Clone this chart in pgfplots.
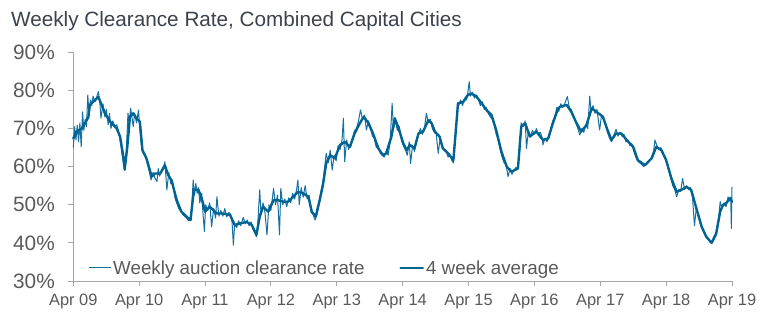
\documentclass[border=0pt]{standalone}
\usepackage{fontspec}
\setmainfont{Liberation Sans}
\usepackage{pgfplots}
\pgfplotsset{compat=1.18}
\definecolor{avgc}{RGB}{0,99,145}
\definecolor{wkc}{RGB}{22,112,162}
\definecolor{axc}{RGB}{166,166,166}
\definecolor{labc}{RGB}{89,89,89}
\definecolor{titc}{RGB}{60,66,76}
\pgfplotsset{my legend image/.style={legend image code/.code={\draw[#1] (0pt,0pt) -- (20pt,0pt); \path (0pt,0pt) -- (22pt,0pt);}}}
\begin{document}
\begin{tikzpicture}
\useasboundingbox (-73.3pt,-44pt) rectangle (693.7pt,281pt);
\node[anchor=base west, font=\fontsize{20.7}{24}\selectfont, text=titc, inner sep=0pt] at (-62.3pt,255pt) {Weekly Clearance Rate, Combined Capital Cities};
\begin{axis}[at={(0pt,0pt)}, anchor=south west, scale only axis,
  width=658.7pt, height=228.7pt,
  xmin=0, xmax=10, ymin=30, ymax=90,
  axis lines*=left,
  axis line style={axc, line width=0.9pt, -},
  xtick={0,1,2,3,4,5,6,7,8,9,10},
  xticklabels={Apr 09,Apr 10,Apr 11,Apr 12,Apr 13,Apr 14,Apr 15,Apr 16,Apr 17,Apr 18,Apr 19},
  ytick={30,40,50,60,70,80,90},
  yticklabels={30\%,40\%,50\%,60\%,70\%,80\%,90\%},
  tick align=outside, major tick length=5pt,
  tick style={axc, line width=0.9pt},
  x tick label style={font=\fontsize{16.4}{18}\selectfont, text=labc, yshift=-5pt},
  y tick label style={font=\fontsize{20.8}{24}\selectfont, text=labc, xshift=-10pt},
  clip=false,
  legend columns=2,
  legend cell align=left,
  my legend image,
  legend style={at={(0.0223,0.057)}, anchor=west, draw=none, fill=none,
    inner sep=0pt, font=\fontsize{18.8}{22}\selectfont, text=labc,
    /tikz/every even column/.append style={column sep=33pt}},
]
\addplot[wkc, line width=1pt, line join=round] table {
t v
0.00 65.0
0.02 70.5
0.04 67.0
0.06 70.8
0.08 66.5
0.10 71.5
0.12 65.2
0.14 74.4
0.16 69.5
0.18 72.5
0.20 70.5
0.22 78.8
0.24 73.5
0.26 77.5
0.28 76.0
0.30 78.5
0.33 77.0
0.36 78.5
0.38 79.7
0.40 77.5
0.42 72.7
0.45 76.5
0.48 73.0
0.50 75.0
0.53 71.0
0.55 74.0
0.57 70.0
0.60 72.0
0.63 70.5
0.66 71.0
0.69 69.0
0.72 66.0
0.75 62.0
0.78 59.0
0.80 62.5
0.83 74.0
0.85 71.5
0.87 75.3
0.89 73.0
0.91 70.5
0.93 74.0
0.96 71.5
0.99 74.8
1.01 70.0
1.03 66.0
1.06 63.5
1.09 63.0
1.12 61.0
1.15 59.0
1.18 56.5
1.21 58.5
1.24 57.0
1.27 56.1
1.29 59.5
1.31 57.5
1.34 59.0
1.37 59.5
1.39 61.3
1.42 53.9
1.45 58.5
1.48 55.5
1.51 56.0
1.54 52.0
1.57 50.5
1.60 49.0
1.63 48.5
1.66 47.5
1.69 47.0
1.72 46.5
1.75 45.8
1.78 46.0
1.80 50.0
1.82 56.5
1.84 52.5
1.86 55.6
1.88 53.0
1.90 54.5
1.92 50.5
1.95 53.0
1.97 47.5
1.99 43.0
2.01 50.0
2.04 48.5
2.07 50.5
2.10 44.2
2.13 49.0
2.16 46.5
2.18 52.1
2.21 47.0
2.24 48.5
2.27 47.0
2.30 49.0
2.33 46.8
2.36 48.0
2.39 47.5
2.41 45.5
2.43 39.4
2.45 45.0
2.48 44.0
2.51 45.8
2.54 44.5
2.58 46.7
2.61 45.0
2.64 46.0
2.67 44.5
2.70 45.5
2.73 43.5
2.76 42.5
2.78 41.6
2.80 45.0
2.83 53.9
2.85 47.5
2.88 50.5
2.91 48.0
2.94 42.1
2.97 50.0
3.00 48.5
3.04 54.3
3.07 50.0
3.10 52.5
3.13 42.1
3.15 54.3
3.18 50.0
3.21 51.5
3.24 49.5
3.27 51.8
3.30 50.5
3.33 53.0
3.36 51.5
3.39 54.0
3.41 56.5
3.43 50.0
3.46 54.5
3.49 52.0
3.52 55.0
3.55 51.5
3.58 52.5
3.61 48.0
3.64 47.5
3.67 46.0
3.70 47.5
3.73 50.0
3.76 53.5
3.79 56.0
3.81 59.0
3.84 63.5
3.87 61.0
3.90 64.3
3.93 59.1
3.96 63.0
3.99 61.5
4.02 65.5
4.05 64.5
4.08 67.0
4.10 72.7
4.12 61.3
4.15 67.0
4.18 64.5
4.21 66.0
4.24 67.5
4.27 69.5
4.30 70.0
4.33 72.0
4.36 74.9
4.39 72.5
4.42 73.5
4.45 69.6
4.48 72.0
4.51 70.5
4.54 68.0
4.57 67.5
4.60 65.0
4.63 65.5
4.66 63.5
4.69 63.0
4.72 62.5
4.75 64.0
4.78 63.0
4.81 66.5
4.84 76.6
4.86 70.0
4.89 72.0
4.92 69.5
4.95 70.5
4.98 67.0
5.01 65.5
5.04 64.5
5.07 63.0
5.10 66.5
5.12 60.8
5.15 65.5
5.18 64.0
5.21 67.0
5.24 68.5
5.27 70.0
5.30 68.5
5.33 70.0
5.36 74.0
5.39 71.5
5.42 72.5
5.45 70.0
5.48 69.0
5.51 68.5
5.54 63.5
5.57 67.5
5.60 65.0
5.63 64.5
5.66 64.0
5.69 62.5
5.72 63.0
5.75 61.5
5.77 61.0
5.80 68.0
5.83 74.5
5.85 76.0
5.88 77.5
5.91 76.0
5.94 78.0
5.97 77.5
5.99 79.5
6.01 82.3
6.03 78.5
6.06 79.5
6.09 78.0
6.12 78.8
6.15 77.5
6.18 76.0
6.21 77.0
6.24 75.0
6.27 75.5
6.30 74.0
6.33 73.0
6.36 72.5
6.39 71.0
6.42 68.5
6.45 67.0
6.48 64.5
6.51 62.5
6.54 61.0
6.57 60.5
6.60 57.4
6.63 59.5
6.66 58.0
6.69 59.0
6.72 59.8
6.75 59.5
6.78 65.0
6.80 71.5
6.83 70.5
6.86 72.0
6.88 64.8
6.91 69.5
6.94 68.0
6.97 69.5
7.00 68.5
7.03 70.0
7.06 68.5
7.09 69.0
7.12 67.5
7.13 65.7
7.16 67.5
7.19 66.5
7.22 68.0
7.25 70.0
7.28 72.0
7.31 73.0
7.34 75.5
7.37 74.5
7.40 76.5
7.43 75.5
7.46 76.5
7.50 78.4
7.53 75.5
7.56 75.0
7.59 73.5
7.62 72.0
7.65 70.5
7.69 68.3
7.72 70.0
7.75 69.0
7.78 71.0
7.81 70.0
7.84 78.5
7.86 74.5
7.89 76.0
7.92 74.0
7.95 75.0
7.99 69.6
8.02 73.5
8.05 72.5
8.08 71.0
8.11 69.0
8.14 67.5
8.17 66.5
8.20 68.0
8.24 69.8
8.27 68.0
8.30 69.0
8.33 68.0
8.36 68.5
8.39 66.5
8.42 67.0
8.45 65.5
8.48 66.0
8.51 64.0
8.54 62.5
8.57 61.5
8.60 61.0
8.63 60.5
8.66 60.0
8.69 60.8
8.72 61.0
8.75 61.5
8.78 62.5
8.81 64.0
8.83 67.0
8.86 65.5
8.89 64.5
8.92 65.0
8.95 63.5
8.98 62.5
9.01 61.0
9.04 59.0
9.07 57.0
9.10 55.0
9.13 54.0
9.16 52.1
9.19 54.0
9.22 53.5
9.25 56.9
9.28 54.0
9.31 55.0
9.34 54.0
9.37 54.5
9.40 52.0
9.43 44.5
9.46 49.5
9.49 47.0
9.52 45.0
9.55 44.0
9.58 42.5
9.61 41.5
9.64 41.0
9.67 40.2
9.70 40.0
9.73 41.0
9.76 42.0
9.79 45.0
9.82 50.8
9.85 49.0
9.88 50.5
9.91 49.5
9.94 52.1
9.96 51.0
9.98 52.0
9.99 43.8
10.00 54.7
};
\addlegendentry{Weekly auction clearance rate}
\addplot[avgc, line width=2.4pt, line join=round, line cap=round] table {
t v
0.00 67.4
0.05 69.2
0.13 70.0
0.18 71.4
0.23 73.1
0.25 76.2
0.30 77.0
0.38 78.3
0.43 76.2
0.48 74.0
0.56 71.8
0.66 70.0
0.71 67.9
0.76 62.6
0.78 59.3
0.82 65.2
0.86 73.1
0.91 74.0
0.96 72.7
1.01 71.8
1.05 64.3
1.11 62.2
1.19 57.4
1.24 58.2
1.32 58.2
1.39 60.4
1.44 57.8
1.49 56.5
1.57 51.2
1.64 48.2
1.75 46.4
1.78 46.0
1.83 53.9
1.90 53.9
1.95 51.7
2.00 48.2
2.07 49.5
2.18 47.7
2.28 47.7
2.38 47.3
2.45 44.7
2.53 45.1
2.63 45.5
2.71 44.7
2.78 42.1
2.83 46.9
2.88 49.5
2.96 48.2
3.04 51.2
3.11 51.2
3.19 50.8
3.26 50.8
3.34 52.1
3.41 53.4
3.49 53.0
3.57 52.1
3.62 48.2
3.68 46.9
3.74 51.2
3.79 55.2
3.84 60.9
3.90 63.0
3.97 62.2
4.05 65.7
4.12 66.5
4.20 65.2
4.27 68.7
4.35 71.4
4.41 73.1
4.48 71.4
4.55 68.7
4.63 64.8
4.70 63.0
4.75 63.5
4.83 67.9
4.88 72.7
4.93 70.5
5.01 66.1
5.06 64.3
5.11 65.7
5.18 64.8
5.24 68.7
5.31 69.2
5.39 72.2
5.44 71.4
5.49 69.2
5.56 67.9
5.61 64.8
5.69 63.5
5.77 61.7
5.82 72.2
5.84 76.6
5.92 77.0
5.99 78.8
6.04 79.2
6.12 78.4
6.20 76.6
6.27 74.9
6.35 73.5
6.42 69.6
6.50 63.9
6.58 60.0
6.65 58.7
6.75 59.5
6.80 70.5
6.86 71.4
6.93 67.9
7.03 69.2
7.13 67.0
7.21 67.4
7.28 71.4
7.36 75.3
7.39 75.7
7.49 76.2
7.56 74.4
7.64 71.4
7.71 69.2
7.79 70.9
7.87 75.3
7.94 74.4
8.04 73.1
8.11 69.6
8.17 67.0
8.24 68.7
8.32 68.7
8.40 67.0
8.50 65.2
8.57 61.7
8.68 60.4
8.78 62.2
8.85 65.2
8.93 64.3
9.00 61.7
9.08 56.9
9.16 53.4
9.23 53.9
9.31 54.7
9.38 53.9
9.46 49.0
9.54 44.2
9.61 41.6
9.69 40.0
9.76 42.5
9.82 48.2
9.86 49.9
9.91 50.4
9.97 51.7
10.00 50.8
};
\addlegendentry{4 week average}
\end{axis}
\end{tikzpicture}
\end{document}
